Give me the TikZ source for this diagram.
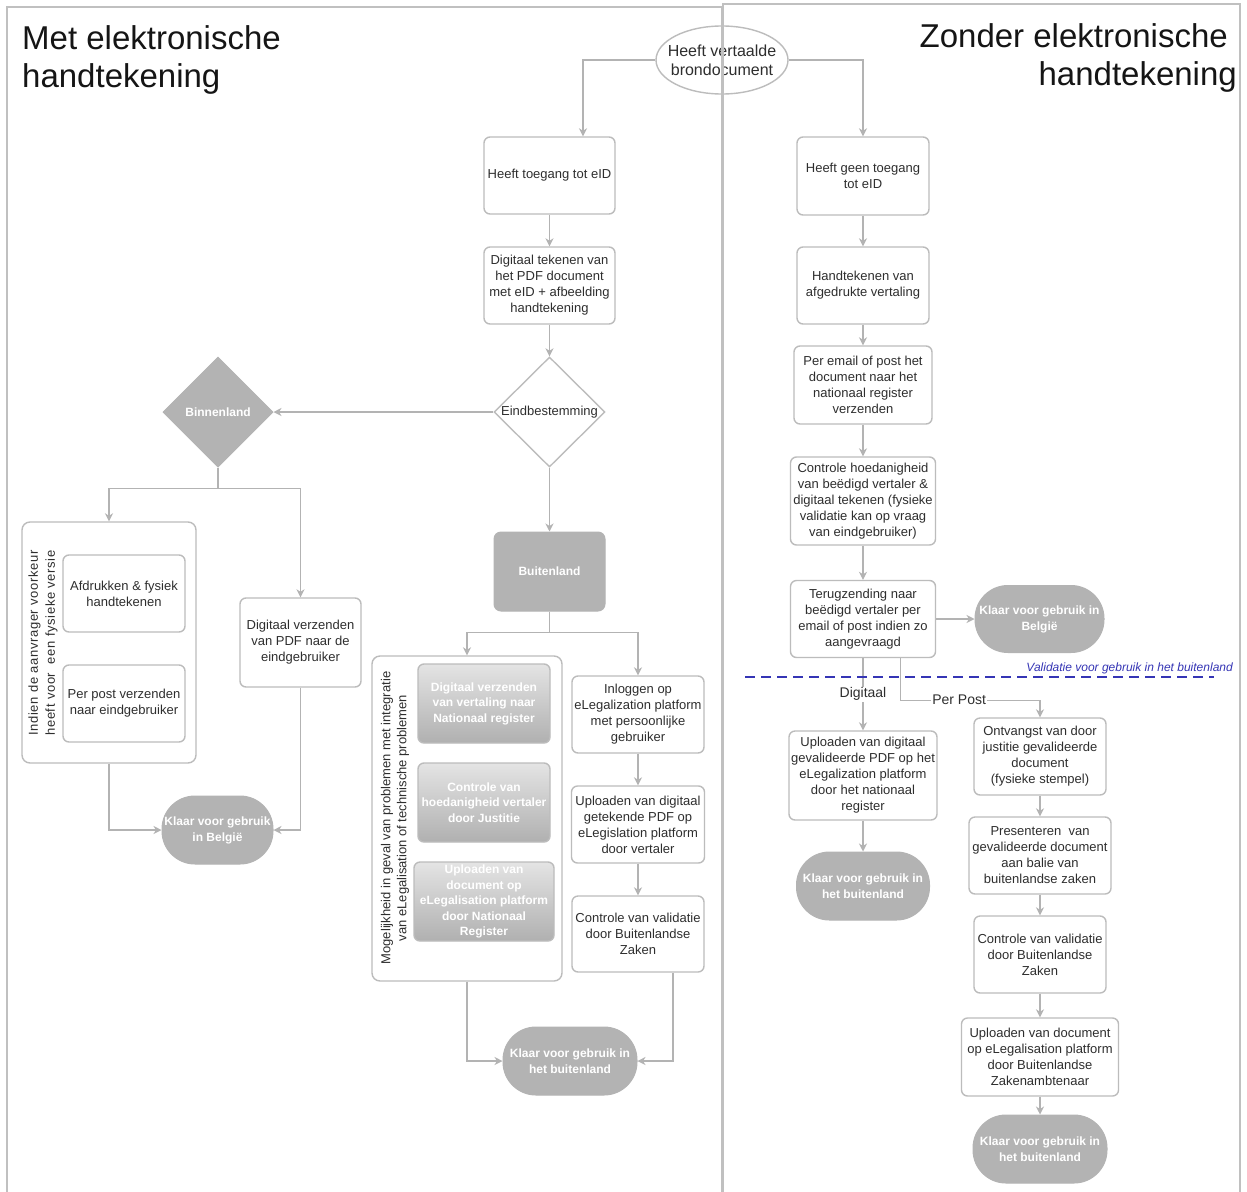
\documentclass[tikz,border=0pt]{standalone}
\usepackage{fontspec}
\setmainfont{Liberation Sans}
\usetikzlibrary{shapes.geometric,arrows.meta}
\definecolor{linegray}{HTML}{B3B3B3}
\definecolor{bordergray}{HTML}{BCBCBC}
\definecolor{framegray}{HTML}{C0C0C0}
\definecolor{termgray}{HTML}{B3B3B3}
\definecolor{textgray}{HTML}{2E2E2E}
\definecolor{gtop}{HTML}{E4E4E4}
\definecolor{gbot}{HTML}{B0B0B0}
\definecolor{valblue}{HTML}{3535B5}
\definecolor{titleblack}{HTML}{151515}
\tikzset{
  box/.style={rectangle, draw=bordergray, line width=1.4pt, rounded corners=6pt, fill=white,
    align=center, text=textgray, inner xsep=1pt, inner ysep=1pt, font=\fontsize{13}{16}\selectfont},
  gbox/.style={box, draw=bordergray, top color=gtop, bottom color=gbot, text=white,
    font=\fontsize{12}{15.5}\selectfont\bfseries},
  term/.style={rectangle, fill=termgray, draw=termgray, line width=1pt, rounded corners=33pt,
    align=center, text=white, font=\fontsize{12}{16}\selectfont\bfseries, inner sep=0pt},
  grp/.style={rectangle, draw=bordergray, line width=1.4pt, rounded corners=8pt, fill=white},
  conn/.style={draw=linegray, line width=1.1pt, -{Stealth[length=8pt,width=8pt,inset=2.5pt]}},
  lbl/.style={fill=white, text=textgray, font=\fontsize{14}{16}\selectfont, inner sep=1pt},
  ttl/.style={text=titleblack, font=\fontsize{33}{38}\selectfont, inner sep=0pt},
  frame/.style={draw=framegray, line width=2pt},
  valline/.style={draw=valblue, line width=2.2pt, dash pattern=on 10pt off 6pt},
  vallbl/.style={text=valblue, font=\fontsize{12}{14}\selectfont\itshape, inner sep=0pt},
  rottext/.style={rotate=90, text=textgray, inner sep=0pt}
}
\begin{document}
\begin{tikzpicture}[x=1pt,y=-1pt]
\useasboundingbox (0,0) rectangle (1247,1191);
\fill[white] (0,0) rectangle (1247,1191);

% titles
\node[ttl, anchor=base west] (tl1) at (22,49) {Met elektronische};
\node[ttl, anchor=base west] (tl2) at (22,87) {handtekening};
\node[ttl, anchor=base east] (tr1) at (1228,47) {Zonder elektronische};
\node[ttl, anchor=base east] (tr2) at (1237,85) {handtekening};

% start
\node[ellipse, draw=bordergray, line width=1.4pt, fill=white, minimum width=132, minimum height=68, inner sep=0pt,
  label={[align=center, text=textgray, font=\fontsize{16}{19}\selectfont]center:Heeft vertaalde\\brondocument}] (ell) at (722,60) {};

% left/middle column
\node[box, minimum width=131, minimum height=77] (t1) at (549.5,175.5) {Heeft toegang tot eID};
\node[box, minimum width=131, minimum height=77] (t2) at (549.5,285.5) {Digitaal tekenen van\\het PDF document\\met eID + afbeelding\\handtekening};
\node[diamond, draw=bordergray, line width=1.4pt, fill=white, minimum width=111, minimum height=110, inner sep=0pt,
  label={[text=textgray, font=\fontsize{13}{16}\selectfont]center:Eindbestemming}] (d1) at (549.5,412) {};
\node[diamond, draw=termgray, fill=termgray, line width=1pt, minimum width=110, minimum height=110, inner sep=0pt,
  label={[text=white, font=\fontsize{12}{16}\selectfont\bfseries]center:Binnenland}] (bin) at (218,412) {};

\node[grp, minimum width=174, minimum height=241] (g1) at (109,642.5) {};
\node[rottext, align=left, font=\fontsize{13}{17}\selectfont\addfontfeature{LetterSpace=5}] (g1t) at (43,643) {Indien de aanvrager voorkeur\\heeft voor\ \ een fysieke versie};
\node[box, minimum width=122, minimum height=77] (a1) at (124,593.5) {Afdrukken \& fysiek\\handtekenen};
\node[box, minimum width=122, minimum height=77] (a2) at (124,703.5) {Per post verzenden\\naar eindgebruiker};
\node[box, minimum width=121, minimum height=89] (dv) at (300.5,642.5) {Digitaal verzenden\\van PDF naar de\\eindgebruiker};
\node[term, minimum width=111, minimum height=68] (k1) at (217.5,830) {Klaar voor gebruik\\in België};

\node[rectangle, fill=termgray, draw=termgray, line width=1pt, rounded corners=7pt, minimum width=111, minimum height=79,
  text=white, font=\fontsize{12}{16}\selectfont\bfseries] (bu) at (549.5,571.5) {Buitenland};

\node[grp, minimum width=190, minimum height=325] (g2) at (467,818.5) {};
\node[rottext, align=center, font=\fontsize{13}{16}\selectfont] (g2t) at (395,818) {Mogelijkheid in geval van problemen met integratie\\van eLegalisation of technische problemen};
\node[gbox, minimum width=132, minimum height=79] (gi1) at (484,703.5) {Digitaal verzenden\\van vertaling naar\\Nationaal register};
\node[gbox, minimum width=132, minimum height=79] (gi2) at (484,802.5) {Controle van\\hoedanigheid vertaler\\door Justitie};
\node[gbox, minimum width=140, minimum height=79] (gi3) at (484,901.5) {Uploaden van\\document op\\eLegalisation platform\\door Nationaal\\Register};

\node[box, minimum width=132, minimum height=77] (il) at (638,714.5) {Inloggen op\\eLegalization platform\\met persoonlijke\\gebruiker};
\node[box, minimum width=133, minimum height=77] (up1) at (638,824.5) {Uploaden van digitaal\\getekende PDF op\\eLegislation platform\\door vertaler};
\node[box, minimum width=132, minimum height=76] (cv) at (638,934) {Controle van validatie\\door Buitenlandse\\Zaken};
\node[term, minimum width=134, minimum height=68] (k2) at (570,1061) {Klaar voor gebruik in\\het buitenland};

% right column
\node[box, minimum width=132, minimum height=78] (r1) at (863,176) {Heeft geen toegang\\tot eID};
\node[box, minimum width=132, minimum height=77] (r2) at (863,285.5) {Handtekenen van\\afgedrukte vertaling};
\node[box, minimum width=138, minimum height=78] (r3) at (863,385) {Per email of post het\\document naar het\\nationaal register\\verzenden};
\node[box, minimum width=145, minimum height=88] (r4) at (863,501) {Controle hoedanigheid\\van beëdigd vertaler \&\\digitaal tekenen (fysieke\\validatie kan op vraag\\van eindgebruiker)};
\node[box, minimum width=145, minimum height=77] (r5) at (863,619) {Terugzending naar\\beëdigd vertaler per\\email of post indien zo\\aangevraagd};
\node[term, minimum width=129, minimum height=67] (k3) at (1039.5,619) {Klaar voor gebruik in\\België};
\node[box, minimum width=148, minimum height=89] (u1) at (863,775.5) {Uploaden van digitaal\\gevalideerde PDF op het\\eLegalization platform\\door het nationaal\\register};
\node[term, minimum width=133, minimum height=68] (k4) at (863,886) {Klaar voor gebruik in\\het buitenland};
\node[box, minimum width=132, minimum height=77] (o1) at (1040,756.5) {Ontvangst van door\\justitie gevalideerde\\document\\(fysieke stempel)};
\node[box, minimum width=142, minimum height=77] (p1) at (1040,855.5) {Presenteren\ \ van\\gevalideerde document\\aan balie van\\buitenlandse zaken};
\node[box, minimum width=132, minimum height=77] (c2) at (1040,954.5) {Controle van validatie\\door Buitenlandse\\Zaken};
\node[box, minimum width=157, minimum height=78] (u2) at (1040,1057) {Uploaden van document\\op eLegalisation platform\\door Buitenlandse\\Zakenambtenaar};
\node[term, minimum width=134, minimum height=68] (k5) at (1040,1149) {Klaar voor gebruik in\\het buitenland};

% connectors
\draw[conn] (ell.west) -| ([xshift=33.5pt]t1.north);
\draw[conn] (ell.east) -| (r1.north);
\draw[conn] (t1) -- (t2);
\draw[conn] (t2) -- (d1);
\draw[conn] (d1) -- (bin);
\draw[conn] (bin.south) -- ++(0,21) -| (g1.north);
\draw[conn] (bin.south) -- ++(0,21) -| (dv.north);
\draw[conn] (g1.south) |- (k1.west);
\draw[conn] (dv.south) |- (k1.east);
\draw[conn] (d1) -- (bu);
\draw[conn] (bu.south) -- ++(0,21) -| (g2.north);
\draw[conn] (bu.south) -- ++(0,21) -| (il.north);
\draw[conn] (il) -- (up1);
\draw[conn] (up1) -- (cv);
\draw[conn] (g2.south) |- (k2.west);
\draw[conn] ([xshift=35pt]cv.south) |- (k2.east);

\draw[conn] (r1) -- (r2);
\draw[conn] (r2) -- (r3);
\draw[conn] (r3) -- (r4);
\draw[conn] (r4) -- (r5);
\draw[conn] (r5) -- (k3);
\draw[conn] (r5) -- node[lbl] (ldig) {Digitaal} (u1);
\draw[conn] ([xshift=37.5pt]r5.south) -- ++(0,42) -| node[lbl, pos=0.21] (lpost) {Per Post} (o1.north);
\draw[conn] (u1) -- (k4);
\draw[conn] (o1) -- (p1);
\draw[conn] (p1) -- (c2);
\draw[conn] (c2) -- (u2);
\draw[conn] (u2) -- (k5);

% validation separator
\draw[valline] (745,677) -- (1214,677);
\node[vallbl, anchor=base east] (vl) at (1233,671) {Validatie voor gebruik in het buitenland};

% frames
\draw[frame] (7,1200) -- (7,7) -- (722,7) -- (722,1200);
\draw[frame] (723,1200) -- (723,4) -- (1240,4) -- (1240,1200);
\end{tikzpicture}
\end{document}
